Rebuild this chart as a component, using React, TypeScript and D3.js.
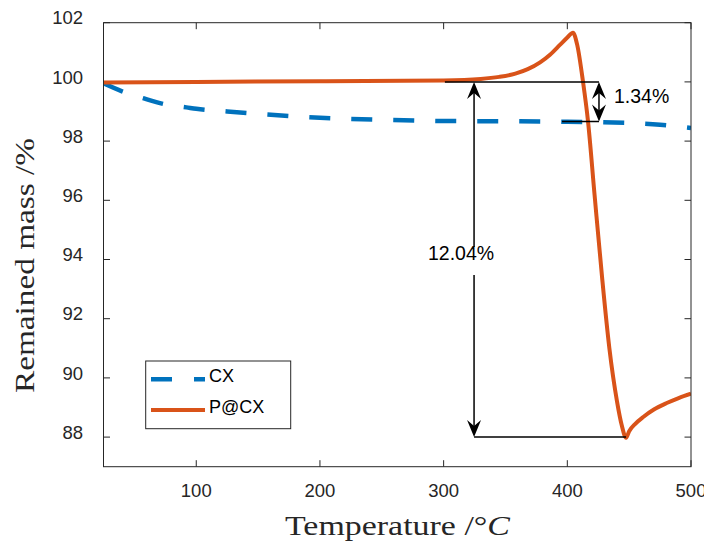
import React from "react";
import * as d3 from "d3";

const cxTemp = [25, 40, 57, 75, 92, 100, 125, 150, 200, 250, 300, 350, 400, 450, 475, 500];
const cxMass = [99.95, 99.68, 99.45, 99.24, 99.14, 99.09, 99.0, 98.92, 98.79, 98.72, 98.68, 98.67, 98.65, 98.61, 98.55, 98.44];

const pcxTemp = [25, 100, 200, 300, 330, 345, 358, 368, 378, 386, 394, 400, 404.6, 408, 412.7, 416.7, 422, 428.1, 434, 440.2, 444, 447.5, 450, 455, 461.4, 470, 480.4, 490, 500];
const pcxMass = [99.98, 100.0, 100.02, 100.05, 100.1, 100.17, 100.28, 100.43, 100.66, 100.92, 101.25, 101.5, 101.66, 101.25, 100.0, 98.68, 96.2, 93.4, 91.0, 89.2, 88.4, 87.98, 88.2, 88.45, 88.68, 88.93, 89.15, 89.32, 89.47];

const xTicks = [100, 200, 300, 400, 500];
const yTicks = [88, 90, 92, 94, 96, 98, 100, 102];
const seriesNames = ["CX", "P@CX"];

// annotation values (data units)
const annTop = 100;
const annCx = 98.66;
const annMin = 88;
const annBigX = 324.6;
const annSmallX = 425.6;
const annTopLeft = 301;
const annMidLeft = 395.7;
const annMinRight = 447.5;
const annBigLabel = "12.04%";
const annSmallLabel = "1.34%";

const W = 704;
const H = 543;
const M = { left: 103.5, right: 691, top: 22.7, bottom: 466.7 };
const AX = "#262626";
const BLUE = "#0072BD";
const ORANGE = "#D95319";
const SANS = "'Liberation Sans', Arial, Helvetica, sans-serif";
const SERIF = "'Liberation Serif', 'DejaVu Serif', serif";

function Head({ x, y, dir }: { x: number; y: number; dir: 1 | -1 }) {
  // dir = -1 points up, 1 points down
  const L = 17, Wd = 7, N = 11;
  const d = `M${x},${y} L${x - Wd},${y - dir * L} L${x},${y - dir * N} L${x + Wd},${y - dir * L} Z`;
  return <path d={d} fill="#000" />;
}

export default function App() {
  const x = d3.scaleLinear().domain([25, 500]).range([M.left, M.right]);
  const y = d3.scaleLinear().domain([87, 102]).range([M.bottom, M.top]);

  const line = d3
    .line<[number, number]>()
    .x((d) => x(d[0]))
    .y((d) => y(d[1]))
    .curve(d3.curveMonotoneX);

  const cxPath = line(cxTemp.map((t, i) => [t, cxMass[i]] as [number, number])) || "";
  const pcxPath = line(pcxTemp.map((t, i) => [t, pcxMass[i]] as [number, number])) || "";

  const tl = 6.5;
  const legX0 = 145.7, legY0 = 361, legX1 = 290.7, legY1 = 428.7;

  const bx = x(annBigX);
  const sx = x(annSmallX);

  return (
    <div style={{ position: "absolute", left: 0, top: 0, width: W, height: H, background: "#fff" }}>
      <svg width={W} height={H} viewBox={`0 0 ${W} ${H}`} style={{ display: "block" }}>
        <rect x={0} y={0} width={W} height={H} fill="#fff" />
        <defs>
          <clipPath id="plotclip">
            <rect x={M.left} y={M.top} width={M.right - M.left} height={M.bottom - M.top} />
          </clipPath>
        </defs>

        {/* ticks */}
        {xTicks.map((t) => (
          <g key={"xt" + t}>
            <line x1={x(t)} x2={x(t)} y1={M.bottom} y2={M.bottom - tl} stroke={AX} strokeWidth={1} />
            <line x1={x(t)} x2={x(t)} y1={M.top} y2={M.top + tl} stroke={AX} strokeWidth={1} />
            <text x={x(t)} y={M.bottom + 30} textAnchor="middle" fontFamily={SANS} fontSize={18.5} fill={AX}>
              {t}
            </text>
          </g>
        ))}
        {yTicks.map((t) => (
          <g key={"yt" + t}>
            <line x1={M.left} x2={M.left + tl} y1={y(t)} y2={y(t)} stroke={AX} strokeWidth={1} />
            <line x1={M.right} x2={M.right - tl} y1={y(t)} y2={y(t)} stroke={AX} strokeWidth={1} />
            <text x={83} y={y(t) + 1.6} textAnchor="end" fontFamily={SANS} fontSize={18.5} fill={AX}>
              {t}
            </text>
          </g>
        ))}

        {/* data */}
        <g clipPath="url(#plotclip)">
          <path d={cxPath} fill="none" stroke={BLUE} strokeWidth={4.5} strokeDasharray="21 21" />
          <path d={pcxPath} fill="none" stroke={ORANGE} strokeWidth={4} strokeLinejoin="round" />
        </g>

        {/* annotations */}
        <g stroke="#000" strokeWidth={1.5} fill="none">
          <line x1={x(annTopLeft)} x2={sx} y1={y(annTop)} y2={y(annTop)} />
          <line x1={x(annMidLeft)} x2={sx} y1={y(annCx)} y2={y(annCx)} />
          <line x1={bx} x2={x(annMinRight)} y1={y(annMin)} y2={y(annMin)} />
          <line x1={sx} x2={sx} y1={y(annTop) + 5} y2={y(annCx) - 5} />
          <line x1={bx} x2={bx} y1={y(annTop) + 5} y2={247} />
          <line x1={bx} x2={bx} y1={275} y2={y(annMin) - 5} />
        </g>
        <Head x={sx} y={y(annTop)} dir={-1} />
        <Head x={sx} y={y(annCx)} dir={1} />
        <Head x={bx} y={y(annTop)} dir={-1} />
        <Head x={bx} y={y(annMin)} dir={1} />
        <text x={614} y={102.5} fontFamily={SANS} fontSize={19.5} fill="#000">
          {annSmallLabel}
        </text>
        <text x={428} y={260} fontFamily={SANS} fontSize={19.5} fill="#000">
          {annBigLabel}
        </text>

        {/* frame */}
        <rect x={M.left} y={M.top} width={M.right - M.left} height={M.bottom - M.top} fill="none" stroke={AX} strokeWidth={1} />

        {/* legend */}
        <rect x={legX0} y={legY0} width={legX1 - legX0} height={legY1 - legY0} fill="#fff" stroke={AX} strokeWidth={1} />
        <line x1={151} x2={205} y1={379.3} y2={379.3} stroke={BLUE} strokeWidth={4.5} strokeDasharray="21 22" />
        <line x1={151} x2={205} y1={410} y2={410} stroke={ORANGE} strokeWidth={4} />
        <text x={209} y={381.7} fontFamily={SANS} fontSize={18} fill="#000">
          {seriesNames[0]}
        </text>
        <text x={209} y={412.7} fontFamily={SANS} fontSize={18} fill="#000">
          {seriesNames[1]}
        </text>

        {/* axis labels */}
        <text x={397.5} y={535} textAnchor="middle" fontFamily={SERIF} fontSize={27} fill={AX} textLength={225} lengthAdjust="spacingAndGlyphs">
          Temperature /°<tspan fontStyle="italic">C</tspan>
        </text>
        <text
          transform={`translate(34,265.5) rotate(-90)`}
          textAnchor="middle"
          fontFamily={SERIF}
          fontSize={27}
          fill={AX}
          textLength={255}
          lengthAdjust="spacingAndGlyphs"
        >
          Remained mass /%
        </text>
      </svg>
    </div>
  );
}
